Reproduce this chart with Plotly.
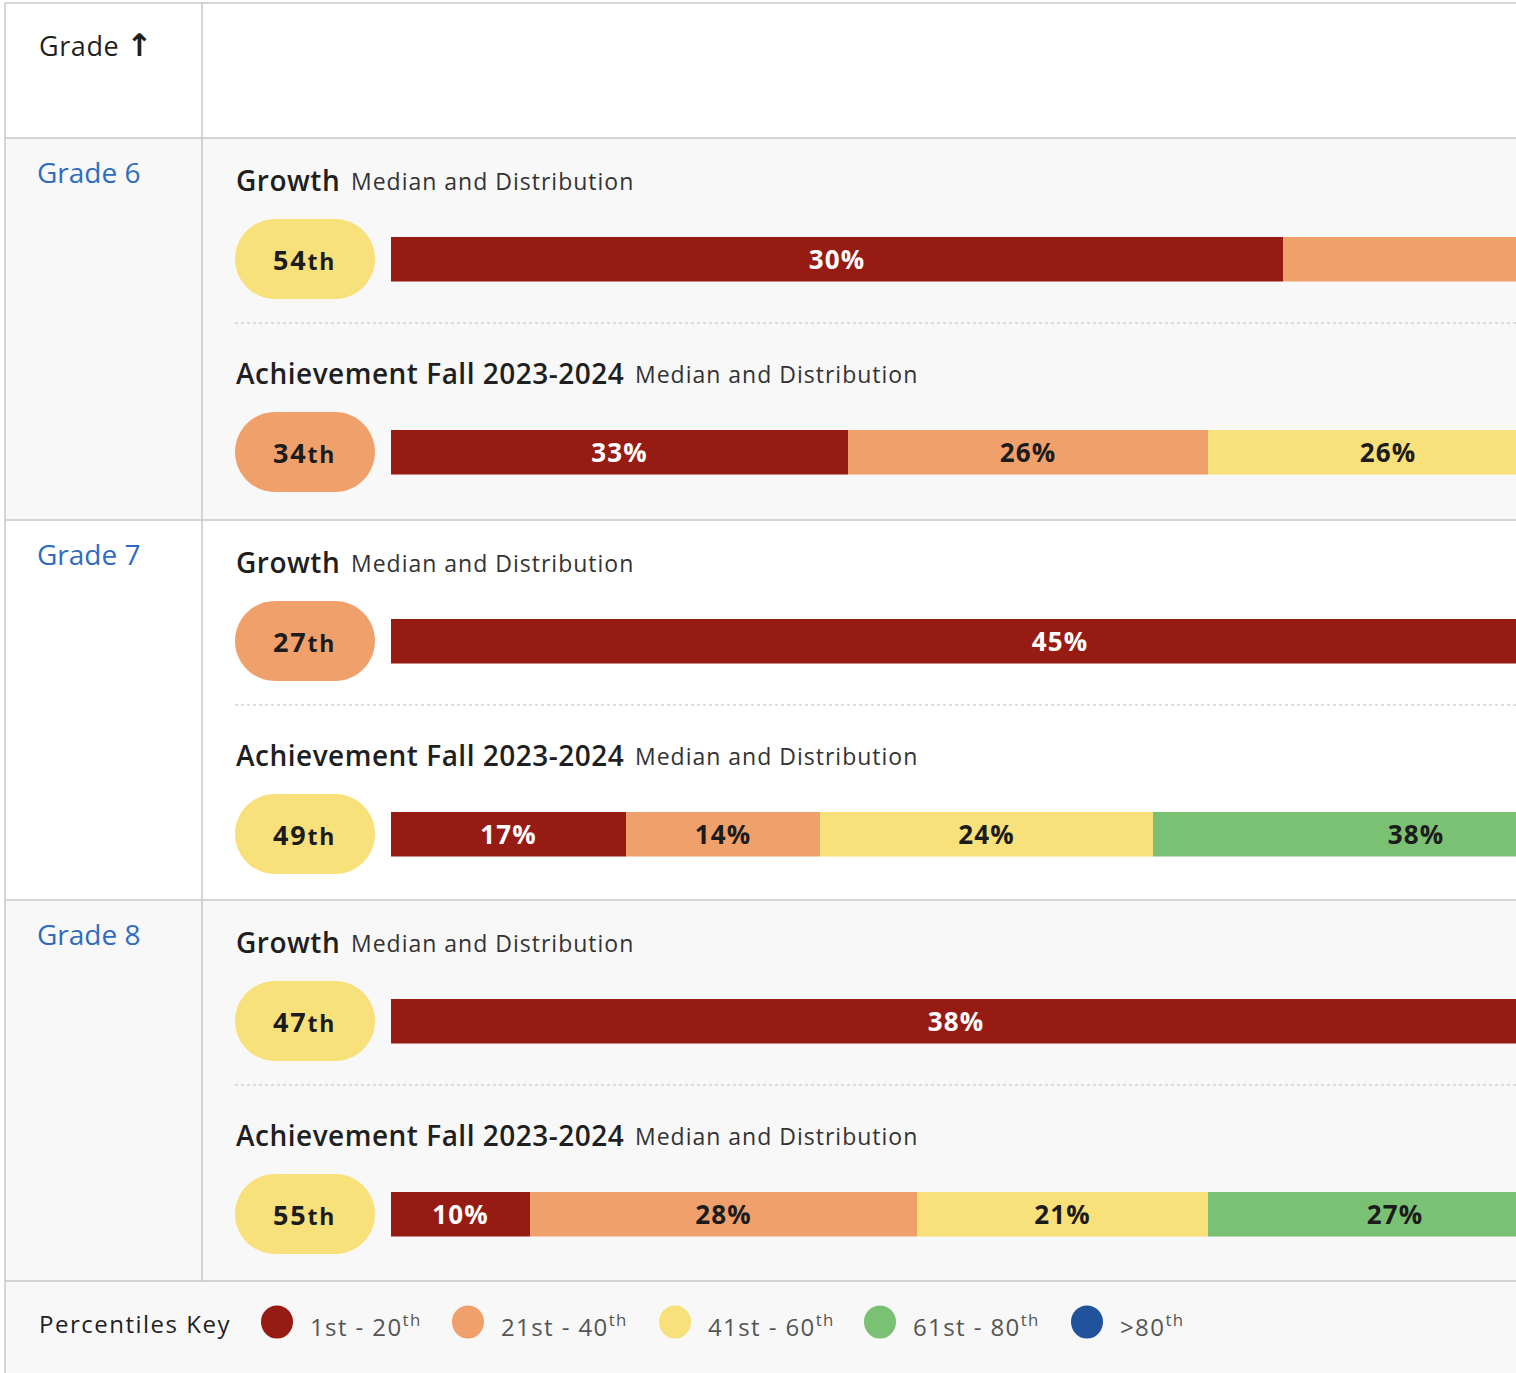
import plotly.graph_objects as go

W, H = 1516, 1373

# ---------------- data ----------------
percentile_bands = ["1st - 20", "21st - 40", "41st - 60", "61st - 80", ">80"]
band_colors = ["#961b13", "#f0a16b", "#f8e07a", "#7bc174", "#21539c"]
label_colors = ["#ffffff", "#1c1c1c", "#1c1c1c", "#1c1c1c", "#ffffff"]

grades = ["Grade 6", "Grade 7", "Grade 8"]
growth_median = [54, 27, 47]
achievement_median = [34, 49, 55]

g6_growth = [30, 34, 18, 12, 6]
g7_growth = [45, 25, 15, 10, 5]
g8_growth = [38, 26, 18, 12, 6]
g6_achievement = [33, 26, 26, 11, 4]
g7_achievement = [17, 14, 24, 38, 7]
g8_achievement = [10, 28, 21, 27, 14]

growth_rows = [g6_growth, g7_growth, g8_growth]
achievement_rows = [g6_achievement, g7_achievement, g8_achievement]
row_titles = ["Growth", "Achievement Fall 2023-2024"]
row_subtitle = "Median and Distribution"

# ---------------- geometry helpers ----------------
FONT = "Open Sans"


def X(px):
    return px / W


def Y(py):
    return 1 - py / H


def ls(text, px):
    return f"<span style='letter-spacing:{px}px'>{text}</span>"


def band_of(p):
    return min(int((p - 1) // 20), 4)


def suffix(n):
    if 10 <= n % 100 <= 20:
        return "th"
    return {1: "st", 2: "nd", 3: "rd"}.get(n % 10, "th")


row_tops = [138, 520, 900]
BAR_LEFT = 391
PX_PER_PCT = {0: 29.73, 1: 13.85}  # growth rows / achievement rows
BAR_HALF = 22.5

fig = go.Figure()
layout_axes = {}
shapes = []
annotations = []

# backgrounds
bg = [(3, 138, "#ffffff"), (138, 520, "#f8f8f8"), (520, 900, "#ffffff"),
      (900, 1281, "#f8f8f8"), (1281, 1373, "#f8f8f8")]
for y0, y1, c in bg:
    shapes.append(dict(type="rect", xref="paper", yref="paper", x0=X(5), x1=X(W), y0=Y(y1), y1=Y(y0),
                       fillcolor=c, line=dict(width=0), layer="below"))

LINE = dict(color="#c9c9c9", width=1.5)
for yy in [3, 138, 520, 900, 1281]:
    shapes.append(dict(type="line", xref="paper", yref="paper", x0=X(5), x1=X(W), y0=Y(yy), y1=Y(yy),
                       line=LINE, layer="below"))
shapes.append(dict(type="line", xref="paper", yref="paper", x0=X(5), x1=X(5), y0=Y(3), y1=Y(H),
                   line=LINE, layer="below"))
shapes.append(dict(type="line", xref="paper", yref="paper", x0=X(202), x1=X(202), y0=Y(3), y1=Y(1281),
                   line=LINE, layer="below"))


def pill_path(x0, y0, x1, y1):
    r = (y1 - y0) / 2
    k = 0.5523 * r
    pts = []
    pts.append(f"M{X(x0 + r)},{Y(y0)}")
    pts.append(f"L{X(x1 - r)},{Y(y0)}")
    pts.append(f"C{X(x1 - r + k)},{Y(y0)} {X(x1)},{Y(y0 + r - k)} {X(x1)},{Y(y0 + r)}")
    pts.append(f"C{X(x1)},{Y(y0 + r + k)} {X(x1 - r + k)},{Y(y1)} {X(x1 - r)},{Y(y1)}")
    pts.append(f"L{X(x0 + r)},{Y(y1)}")
    pts.append(f"C{X(x0 + r - k)},{Y(y1)} {X(x0)},{Y(y0 + r + k)} {X(x0)},{Y(y0 + r)}")
    pts.append(f"C{X(x0)},{Y(y0 + r - k)} {X(x0 + r - k)},{Y(y0)} {X(x0 + r)},{Y(y0)}")
    return " ".join(pts) + " Z"


# header
annotations.append(dict(x=X(37), y=Y(45), xref="paper", yref="paper", xanchor="left", yanchor="middle",
                        text=ls("Grade", 0.6) + " <span style='font-family:DejaVu Sans;font-size:31px;font-weight:bold'>\u2191</span>",
                        showarrow=False,
                        font=dict(family=FONT, size=27, color="#1f1f1f", weight=500)))

idx = 0
for gi, g in enumerate(grades):
    top = row_tops[gi]
    annotations.append(dict(x=X(35), y=Y(top + 34), xref="paper", yref="paper", xanchor="left",
                            yanchor="middle", text=g, showarrow=False,
                            font=dict(family=FONT, size=28, color="#2f6cbf", weight=500)))
    shapes.append(dict(type="line", xref="paper", yref="paper", x0=X(235), x1=X(W), y0=Y(top + 185),
                       y1=Y(top + 185), line=dict(color="#bdbdbd", width=1, dash="3px,3px"), layer="below"))
    for kind in (0, 1):
        dist = growth_rows[gi] if kind == 0 else achievement_rows[gi]
        med = growth_median[gi] if kind == 0 else achievement_median[gi]
        title_y = top + (42 if kind == 0 else 235)
        cy = top + (121 if kind == 0 else 314)
        title = row_titles[kind]
        sub_x = 349 if kind == 0 else 633
        annotations.append(dict(x=X(234), y=Y(title_y), xref="paper", yref="paper", xanchor="left",
                                yanchor="middle", text=ls(title, 0.5), showarrow=False,
                                font=dict(family=FONT, size=28, color="#1f1f1f", weight=600)))
        annotations.append(dict(x=X(sub_x), y=Y(title_y + 1), xref="paper", yref="paper",
                                xanchor="left", yanchor="middle", text=ls(row_subtitle, 1.0), showarrow=False,
                                font=dict(family=FONT, size=23, color="#333333", weight=400)))
        # median pill
        shapes.append(dict(type="path", xref="paper", yref="paper", path=pill_path(235, cy - 40, 375, cy + 40),
                           fillcolor=band_colors[band_of(med)], line=dict(width=0), layer="below"))
        annotations.append(dict(x=X(304), y=Y(cy), xref="paper", yref="paper", xanchor="center",
                                yanchor="middle", showarrow=False,
                                text=ls(f"{med}<span style='font-size:23px'>{suffix(med)}</span>", 1.8),
                                font=dict(family=FONT, size=27, color="#1c1c1c", weight=700)))
        idx += 1
        xa = "x" if idx == 1 else f"x{idx}"
        ya = "y" if idx == 1 else f"y{idx}"
        rng = (W - BAR_LEFT) / PX_PER_PCT[kind]
        start = 0
        for b in range(len(percentile_bands)):
            # label only segments whose centre lies within the visible part of the bar
            show = start + dist[b] / 2 < rng
            bar_kw = dict(
                x=[dist[b]], y=[0], orientation="h", xaxis=xa, yaxis=ya, width=1,
                marker=dict(color=band_colors[b], line=dict(width=0)),
                hoverinfo="skip", showlegend=False, name=percentile_bands[b])
            if show:
                bar_kw.update(text=[ls(f"{dist[b]}%", 1.2)], textposition="inside",
                              insidetextanchor="middle",
                              textfont=dict(family=FONT, size=26, color=label_colors[b], weight=700))
            else:
                bar_kw.update(textposition="none")
            fig.add_trace(go.Bar(**bar_kw))
            start += dist[b]
        layout_axes["xaxis" if idx == 1 else f"xaxis{idx}"] = dict(
            domain=[X(BAR_LEFT), 1], range=[0, rng], visible=False, fixedrange=True, anchor=ya)
        layout_axes["yaxis" if idx == 1 else f"yaxis{idx}"] = dict(
            domain=[Y(cy + BAR_HALF), Y(cy - BAR_HALF)], range=[-0.5, 0.5], visible=False,
            fixedrange=True, anchor=xa)

# legend row
annotations.append(dict(x=X(37), y=Y(1323), xref="paper", yref="paper", xanchor="left", yanchor="middle",
                        text=ls("Percentiles Key", 1.5), showarrow=False,
                        font=dict(family=FONT, size=24, color="#1f1f1f", weight=500)))
legend_dot_x = [277, 468, 675, 880, 1087]
for b, lab in enumerate(percentile_bands):
    cx = legend_dot_x[b]
    shapes.append(dict(type="circle", xref="paper", yref="paper", x0=X(cx - 16), x1=X(cx + 16),
                       y0=Y(1322 + 16.5), y1=Y(1322 - 16.5), fillcolor=band_colors[b], line=dict(width=0)))
    annotations.append(dict(x=X(cx + 31), y=Y(1325), xref="paper", yref="paper", xanchor="left",
                            yanchor="middle", text=ls(f"{lab}<sup>th</sup>", 1.4), showarrow=False,
                            font=dict(family=FONT, size=24, color="#555555", weight=400)))

fig.update_layout(
    width=W, height=H, margin=dict(l=0, r=0, t=0, b=0),
    paper_bgcolor="#ffffff", plot_bgcolor="rgba(0,0,0,0)",
    barmode="stack", bargap=0, showlegend=False,
    shapes=shapes, annotations=annotations, **layout_axes)

fig.write_html("out.html", post_script="document.body.style.margin='0px';",
               config={"displayModeBar": False})
